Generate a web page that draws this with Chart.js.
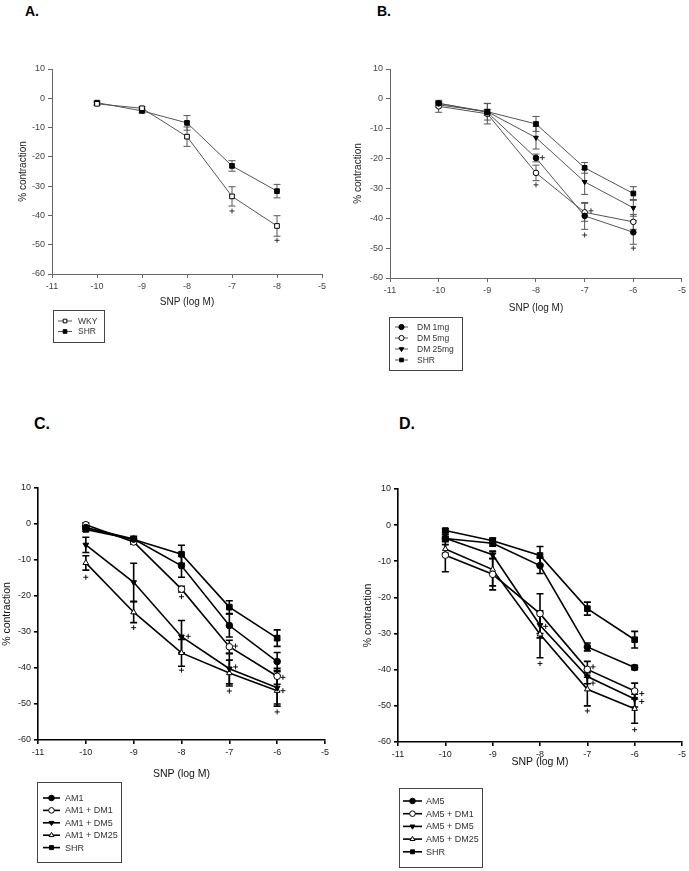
<!DOCTYPE html>
<html>
<head>
<meta charset="utf-8">
<script src="https://cdn.jsdelivr.net/npm/chart.js@4.4.1/dist/chart.umd.min.js"></script>
<style>
  body { margin: 0; background: #fff; width: 689px; height: 871px; position: relative; overflow: hidden; font-family: "Liberation Sans", Arial, sans-serif; }
  canvas { position: absolute; }
  .tag { position: absolute; font-weight: bold; color: #000; }
</style>
</head>
<body>
<div class="tag" style="left:25px;top:3px;font-size:14px">A.</div>
<div class="tag" style="left:377px;top:3px;font-size:14px">B.</div>
<div class="tag" style="left:34px;top:415px;font-size:16px">C.</div>
<div class="tag" style="left:399px;top:415px;font-size:16px">D.</div>
<canvas id="panelA" width="344" height="350" style="left:0;top:0"></canvas>
<canvas id="panelB" width="344" height="380" style="left:345px;top:0"></canvas>
<canvas id="panelC" width="344" height="471" style="left:0;top:400px"></canvas>
<canvas id="panelD" width="344" height="471" style="left:345px;top:400px"></canvas>
<script>
// SNP concentrations (log M) used for every series
const xLevels = [-10, -9, -8, -7, -6];
// panel A has a misprinted "-8" where -6 should be; kept as in the figure
const xTickLabelsA = ["-11", "-10", "-9", "-8", "-7", "-8", "-5"];
const xTickLabels = ["-11", "-10", "-9", "-8", "-7", "-6", "-5"];

// SHR control, shared by all four panels
const shrMean = [-1.5, -4.3, -8.4, -23.1, -31.7];
const shrErr = [0.5, 0.7, 2.5, 1.8, 2.3];

// Panel A
const wkyMean = [-1.9, -3.4, -13.1, -33.5, -43.6];
const wkyErr = [0.5, 0.5, 3.3, 3.3, 3.5];
const plusAX = [-7, -6];
const plusAY = [-38.5, -48.5];

// Panel B
const dm1Mean = [-1.5, -4.5, -19.8, -39.2, -44.7];
const dm1Err = [0.6, 1.0, 1.3, 4.5, 4.0];
const dm5Mean = [-2.5, -5.0, -24.8, -38.0, -41.2];
const dm5Err = [2.0, 3.4, 2.6, 3.0, 2.5];
const dm25Mean = [-2.0, -4.3, -13.0, -27.8, -36.5];
const dm25Err = [0.8, 2.8, 3.8, 4.2, 2.8];
const plusBX = [-7.87, -8, -6.87, -7, -6];
const plusBY = [-19.7, -28.8, -37.5, -45.6, -50.0];

// Panel C
const am1Mean = [-1.0, -4.2, -11.6, -28.2, -38.2];
const am1Err = [0.5, 0.8, 3.2, 3.2, 2.5];
const am1dm1Mean = [-0.2, -5.0, -18.1, -34.1, -42.3];
const am1dm1Err = [0.5, 0.6, 0.8, 1.8, 2.2];
const am1dm5Mean = [-5.8, -16.2, -31.3, -40.2, -45.5];
const am1dm5Err = [2.1, 5.3, 4.5, 4.2, 4.5];
const am1dm25Mean = [-10.8, -24.5, -35.8, -41.4, -46.3];
const am1dm25Err = [2.0, 2.9, 3.7, 3.6, 4.3];
const plusCX = [-10, -9, -8, -7.86, -8, -6.87, -6.87, -7, -5.88, -5.88, -6];
const plusCY = [-14.8, -28.8, -20.2, -31.2, -40.6, -33.9, -39.7, -46.4, -42.6, -46.3, -52.2];

// Panel D
const am5Mean = [-3.7, -5.0, -11.2, -33.7, -39.4];
const am5Err = [0.6, 0.8, 2.2, 1.1, 0.6];
const am5dm1Mean = [-8.3, -13.6, -24.5, -39.9, -45.9];
const am5dm1Err = [4.6, 4.3, 5.5, 2.2, 2.2];
const am5dm5Mean = [-3.6, -8.2, -27.7, -41.9, -48.1];
const am5dm5Err = [1.0, 1.0, 3.5, 2.0, 2.2];
const am5dm25Mean = [-6.6, -12.3, -30.2, -45.4, -50.8];
const am5dm25Err = [1.2, 4.5, 6.5, 4.6, 4.0];
const plusDX = [-8, -7.88, -6.88, -6.88, -7, -5.85, -5.85, -6];
const plusDY = [-38.3, -28.0, -39.2, -43.7, -51.4, -46.6, -48.8, -56.6];

// ---------------------------------------------------------------------------

// small marker painter, used by the boxed legend
function paintMarker(ctx, style, x, y, r, filled, rotation) {
  ctx.beginPath();
  if (style === "rect") {
    const s = r * Math.SQRT1_2;
    ctx.rect(x - s, y - s, 2 * s, 2 * s);
  } else if (style === "triangle") {
    let a = (rotation || 0) * Math.PI / 180;
    ctx.moveTo(x + Math.sin(a) * r, y - Math.cos(a) * r);
    for (let k = 0; k < 2; k++) {
      a += 2 * Math.PI / 3;
      ctx.lineTo(x + Math.sin(a) * r, y - Math.cos(a) * r);
    }
    ctx.closePath();
  } else {
    ctx.arc(x, y, r, 0, Math.PI * 2);
  }
  ctx.fillStyle = filled ? "#000" : "#fff";
  ctx.fill();
  ctx.stroke();
}

// vertical SEM bars with caps, drawn under the markers
const errorBars = {
  id: "errorBars",
  beforeDatasetsDraw(chart, args, opts) {
    const ctx = chart.ctx;
    const yScale = chart.scales.y;
    ctx.save();
    ctx.strokeStyle = opts.color;
    ctx.lineWidth = opts.width;
    chart.data.datasets.forEach((ds, di) => {
      if (!ds.errors) return;
      const meta = chart.getDatasetMeta(di);
      meta.data.forEach((pt, i) => {
        const e = ds.errors[i];
        if (!e) return;
        const v = ds.data[i].y;
        const top = yScale.getPixelForValue(v + e);
        const bot = yScale.getPixelForValue(v - e);
        ctx.beginPath();
        ctx.moveTo(pt.x, top);
        ctx.lineTo(pt.x, bot);
        ctx.moveTo(pt.x - opts.cap, top);
        ctx.lineTo(pt.x + opts.cap, top);
        ctx.moveTo(pt.x - opts.cap, bot);
        ctx.lineTo(pt.x + opts.cap, bot);
        ctx.stroke();
      });
    });
    ctx.restore();
  },
};

// boxed legend in the lower-left corner, like the original figure
const boxLegend = {
  id: "boxLegend",
  afterDraw(chart, args, o) {
    const ctx = chart.ctx;
    ctx.save();
    ctx.strokeStyle = "#444";
    ctx.lineWidth = 1;
    ctx.strokeRect(o.x + 0.5, o.y + 0.5, o.w, o.h);
    ctx.font = o.fontSize + 'px "Liberation Sans", Arial, sans-serif';
    ctx.textBaseline = "middle";
    let row = 0;
    chart.data.datasets.forEach((ds) => {
      if (ds.noLegend) return;
      const y = o.firstY + row * o.step;
      ctx.strokeStyle = ds.borderColor;
      ctx.lineWidth = ds.borderWidth;
      ctx.beginPath();
      ctx.moveTo(o.lineX0, y);
      ctx.lineTo(o.lineX1, y);
      ctx.stroke();
      ctx.strokeStyle = "#000";
      ctx.lineWidth = 1;
      paintMarker(ctx, ds.pointStyle, (o.lineX0 + o.lineX1) / 2, y, o.markR,
        ds.pointBackgroundColor === "#000", ds.pointRotation);
      ctx.fillStyle = "#333";
      ctx.fillText(ds.label, o.textX, y + 0.5);
      row++;
    });
    ctx.restore();
  },
};

function series(label, means, errs, style, filled, rotation, look) {
  return {
    label,
    data: xLevels.map((x, i) => ({ x, y: means[i] })),
    errors: errs,
    showLine: true,
    borderColor: look.line,
    borderWidth: look.lineWidth,
    pointStyle: style,
    pointRotation: rotation,
    pointRadius: style === "rect" ? look.rectR : look.markR,
    pointBackgroundColor: filled ? "#000" : "#fff",
    pointBorderColor: "#000",
    pointBorderWidth: 1,
  };
}

function plusMarks(xs, ys, look) {
  return {
    label: "",
    noLegend: true,
    data: xs.map((x, i) => ({ x, y: ys[i] })),
    showLine: false,
    pointStyle: "cross",
    pointRadius: 2.5,
    pointBorderColor: look.plus,
    pointBorderWidth: 1,
  };
}

function drawPanel(id, datasets, tickLabels, look, box, legend) {
  const font = '"Liberation Sans", Arial, sans-serif';
  return new Chart(document.getElementById(id), {
    type: "scatter",
    data: { datasets },
    options: {
      responsive: false,
      animation: false,
      layout: { padding: { left: 0, top: box.top, right: box.right, bottom: box.bottom } },
      scales: {
        x: {
          type: "linear",
          min: -11,
          max: -5,
          afterFit: (axis) => { axis.height = 40; },
          border: { color: look.axis, width: look.axisWidth },
          grid: { drawOnChartArea: false, drawTicks: true, tickLength: 4, color: look.axis, lineWidth: look.axisWidth },
          ticks: {
            stepSize: 1,
            padding: 3,
            color: look.text,
            font: { family: font, size: 9 },
            callback: (v) => tickLabels[Math.round(v) + 11],
          },
          title: {
            display: true,
            text: "SNP (log M)",
            color: look.title,
            font: { family: font, size: look.titleSize },
            padding: { top: 0, bottom: box.xTitlePad },
          },
        },
        y: {
          min: -60,
          max: 10,
          afterFit: (axis) => { axis.width = box.yWidth; },
          border: { color: look.axis, width: look.axisWidth },
          grid: { drawOnChartArea: false, drawTicks: true, tickLength: 4, color: look.axis, lineWidth: look.axisWidth },
          ticks: { stepSize: 10, padding: 3, color: look.text, font: { family: font, size: 9 } },
          title: {
            display: true,
            text: "% contraction",
            color: look.title,
            font: { family: font, size: look.titleSize },
            padding: { top: box.yTitlePad, bottom: 0 },
          },
        },
      },
      plugins: {
        legend: { display: false },
        tooltip: { enabled: false },
        errorBars: { color: look.line, width: look.lineWidth, cap: 3.5 },
        boxLegend: legend,
      },
    },
    plugins: [errorBars, boxLegend],
  });
}

// grey thin style of the upper figures, black heavier style of the lower ones
const lightLook = { line: "#555", lineWidth: 1, axis: "#666", axisWidth: 1, text: "#444", title: "#222", titleSize: 10, plus: "#333", markR: 2.8, rectR: 3.3 };
const heavyLook = { line: "#000", lineWidth: 1.6, axis: "#000", axisWidth: 1.6, text: "#222", title: "#111", titleSize: 10.5, plus: "#111", markR: 3.3, rectR: 4.0 };

drawPanel("panelA", [
  series("WKY", wkyMean, wkyErr, "rect", false, 0, lightLook),
  series("SHR", shrMean, shrErr, "rect", true, 0, lightLook),
  plusMarks(plusAX, plusAY, lightLook),
], xTickLabelsA, lightLook,
  { top: 69, right: 22, bottom: 36, yWidth: 52, yTitlePad: 17, xTitlePad: 6 },
  { x: 53, y: 310, w: 51, h: 32, firstY: 321, step: 10.5, lineX0: 58, lineX1: 72, textX: 78, markR: 2.6, fontSize: 8.5 });

drawPanel("panelB", [
  series("DM 1mg", dm1Mean, dm1Err, "circle", true, 0, lightLook),
  series("DM 5mg", dm5Mean, dm5Err, "circle", false, 0, lightLook),
  series("DM 25mg", dm25Mean, dm25Err, "triangle", true, 180, lightLook),
  series("SHR", shrMean, shrErr, "rect", true, 0, lightLook),
  plusMarks(plusBX, plusBY, lightLook),
], xTickLabels, lightLook,
  { top: 69, right: 6, bottom: 62, yWidth: 45, yTitlePad: 7, xTitlePad: 4 },
  { x: 44, y: 317, w: 73, h: 53, firstY: 327, step: 11, lineX0: 50, lineX1: 63, textX: 72, markR: 2.6, fontSize: 8.5 });

drawPanel("panelC", [
  series("AM1", am1Mean, am1Err, "circle", true, 0, heavyLook),
  series("AM1 + DM1", am1dm1Mean, am1dm1Err, "circle", false, 0, heavyLook),
  series("AM1 + DM5", am1dm5Mean, am1dm5Err, "triangle", true, 180, heavyLook),
  series("AM1 + DM25", am1dm25Mean, am1dm25Err, "triangle", false, 0, heavyLook),
  series("SHR", shrMean, shrErr, "rect", true, 0, heavyLook),
  plusMarks(plusCX, plusCY, heavyLook),
], xTickLabels, heavyLook,
  { top: 88, right: 19, bottom: 91, yWidth: 38, yTitlePad: 1, xTitlePad: 0 },
  { x: 37, y: 382, w: 84, h: 80, firstY: 398, step: 12.4, lineX0: 43, lineX1: 60, textX: 65, markR: 2.8, fontSize: 9 });

drawPanel("panelD", [
  series("AM5", am5Mean, am5Err, "circle", true, 0, heavyLook),
  series("AM5 + DM1", am5dm1Mean, am5dm1Err, "circle", false, 0, heavyLook),
  series("AM5 + DM5", am5dm5Mean, am5dm5Err, "triangle", true, 180, heavyLook),
  series("AM5 + DM25", am5dm25Mean, am5dm25Err, "triangle", false, 0, heavyLook),
  series("SHR", shrMean, shrErr, "rect", true, 0, heavyLook),
  plusMarks(plusDX, plusDY, heavyLook),
], xTickLabels, heavyLook,
  { top: 89, right: 6, bottom: 89, yWidth: 53, yTitlePad: 17, xTitlePad: 14 },
  { x: 54, y: 388, w: 83, h: 79, firstY: 401, step: 12.7, lineX0: 58, lineX1: 77, textX: 81, markR: 2.8, fontSize: 9 });
</script>
</body>
</html>
